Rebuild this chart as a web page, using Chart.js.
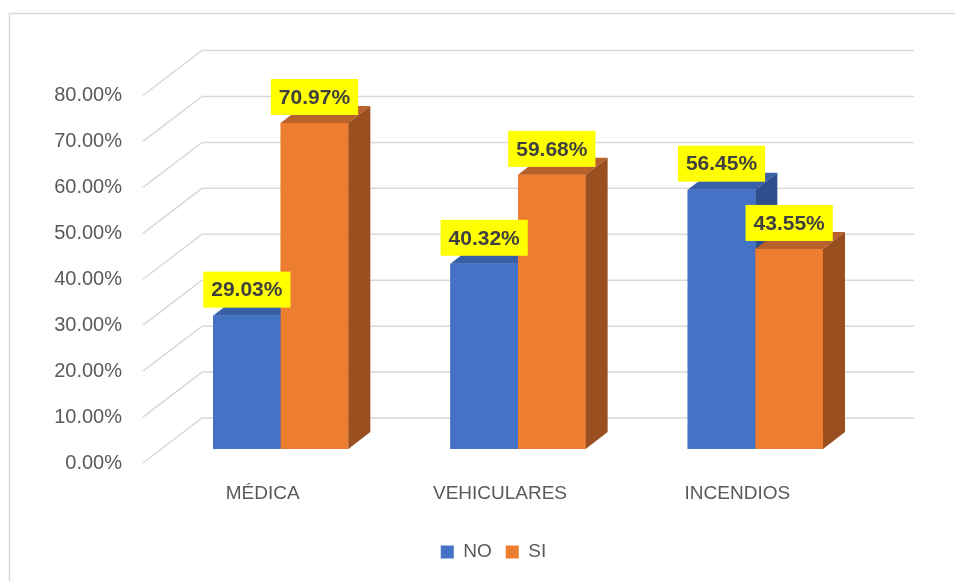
<!DOCTYPE html>
<html>
<head>
<meta charset="utf-8">
<script src="https://cdn.jsdelivr.net/npm/chart.js@4.4.1/dist/chart.umd.min.js"></script>
<style>
  html, body { margin: 0; padding: 0; background: #fff; }
  #wrap { width: 955px; height: 581px; }
</style>
</head>
<body>
<div id="wrap"><canvas id="chart"></canvas></div>
<script>
const categories = ['MÉDICA', 'VEHICULARES', 'INCENDIOS'];
const seriesNames = ['NO', 'SI'];
const noValues = [29.03, 40.32, 56.45];
const siValues = [70.97, 59.68, 43.55];
const yMin = 0, yMax = 80, yStep = 10;

// colores: frente, tapa, lado
const faceColors = [
    { front: '#4472c4', top: '#3760a8', side: '#2d4f8e' },
    { front: '#ed7d31', top: '#b8612a', side: '#994f1f' }
];

// perspectiva (px)
const barDepth = { dx: 22, dy: -17 };
const frontPlane = { dx: -19, dy: 14 };
const backPlane = { dx: 40, dy: -31 };

const font = 'Liberation Sans';
const grey = '#595959';

function poly(ctx, pts, color) {
    ctx.beginPath();
    ctx.moveTo(pts[0][0], pts[0][1]);
    for (let i = 1; i < pts.length; i++) ctx.lineTo(pts[i][0], pts[i][1]);
    ctx.closePath();
    ctx.fillStyle = color;
    ctx.fill();
}

const frame3d = {
    id: 'frame3d',
    beforeDraw(chart) {
        const ctx = chart.ctx;
        ctx.save();
        ctx.fillStyle = '#fff';
        ctx.fillRect(0, 0, chart.width, chart.height);
        ctx.strokeStyle = '#d9d9d9';
        ctx.lineWidth = 1.5;
        ctx.strokeRect(9.5, 13.5, chart.width, chart.height);
        ctx.restore();
    },
    beforeDatasetsDraw(chart) {
        const ctx = chart.ctx;
        const y = chart.scales.y;
        const area = chart.chartArea;
        ctx.save();
        ctx.strokeStyle = '#d9d9d9';
        ctx.lineWidth = 1.5;
        y.ticks.forEach(t => {
            const py = y.getPixelForValue(t.value);
            ctx.beginPath();
            ctx.moveTo(area.left + frontPlane.dx, py + frontPlane.dy);
            ctx.lineTo(area.left + backPlane.dx, py + backPlane.dy);
            ctx.lineTo(area.right + backPlane.dx, py + backPlane.dy);
            ctx.stroke();
        });
        ctx.restore();
    },
    afterDatasetsDraw(chart) {
        const ctx = chart.ctx;
        const metas = chart.data.datasets.map((d, i) => chart.getDatasetMeta(i));
        ctx.save();
        // cajas por categoria, de izquierda a derecha
        categories.forEach((c, ci) => {
            metas.forEach((meta, di) => {
                const el = meta.data[ci].getProps(['x', 'y', 'base', 'width'], true);
                const l = el.x - el.width / 2, r = el.x + el.width / 2;
                const t = el.y, b = el.base;
                const col = faceColors[di];
                poly(ctx, [[l, t], [r, t], [r, b], [l, b]], col.front);
                poly(ctx, [[l, t], [l + barDepth.dx, t + barDepth.dy], [r + barDepth.dx, t + barDepth.dy], [r, t]], col.top);
                poly(ctx, [[r, t], [r + barDepth.dx, t + barDepth.dy], [r + barDepth.dx, b + barDepth.dy], [r, b]], col.side);
            });
        });
        // etiquetas de datos
        ctx.font = `bold 21px "${font}"`;
        ctx.textAlign = 'center';
        ctx.textBaseline = 'middle';
        metas.forEach((meta, di) => {
            meta.data.forEach((bar, ci) => {
                const el = bar.getProps(['x', 'y'], true);
                const txt = chart.data.datasets[di].data[ci].toFixed(2) + '%';
                const w = ctx.measureText(txt).width + 16;
                const h = 36;
                const bottom = el.y - 8;
                ctx.fillStyle = '#ffff00';
                ctx.fillRect(el.x - w / 2, bottom - h, w, h);
                ctx.fillStyle = '#404040';
                ctx.fillText(txt, el.x, bottom - h / 2 + 1);
            });
        });
        ctx.restore();
    }
};

new Chart(document.getElementById('chart'), {
    type: 'bar',
    data: {
        labels: categories,
        datasets: [
            { label: seriesNames[0], data: noValues, backgroundColor: faceColors[0].front },
            { label: seriesNames[1], data: siValues, backgroundColor: faceColors[1].front }
        ]
    },
    options: {
        responsive: true,
        maintainAspectRatio: false,
        animation: false,
        categoryPercentage: 0.57,
        barPercentage: 1,
        layout: { padding: { left: 40, right: 8, top: 81.5, bottom: 9.5 } },
        scales: {
            x: {
                grid: { display: false },
                border: { display: false },
                ticks: { color: grey, font: { family: font, size: 19 }, padding: 25.6, labelOffset: -18 },
                afterFit: s => { s.height = 79.5; }
            },
            y: {
                min: yMin,
                max: yMax,
                grid: { display: false, drawTicks: false },
                border: { display: false },
                ticks: {
                    stepSize: yStep,
                    color: grey,
                    font: { family: font, size: 20 },
                    padding: 40,
                    labelOffset: 14,
                    callback: v => v.toFixed(2) + '%'
                },
                afterFit: s => { s.width = 122; }
            },
            // eje vacio a la derecha, solo reserva espacio
            yRight: {
                position: 'right',
                min: yMin,
                max: yMax,
                grid: { display: false },
                border: { display: false },
                ticks: { display: false },
                afterFit: s => { s.width = 73; }
            }
        },
        plugins: {
            legend: {
                position: 'bottom',
                labels: {
                    color: grey,
                    font: { family: font, size: 19 },
                    boxWidth: 13,
                    boxHeight: 13,
                    padding: 14
                }
            },
            tooltip: { enabled: false }
        }
    },
    plugins: [frame3d]
});
</script>
</body>
</html>
